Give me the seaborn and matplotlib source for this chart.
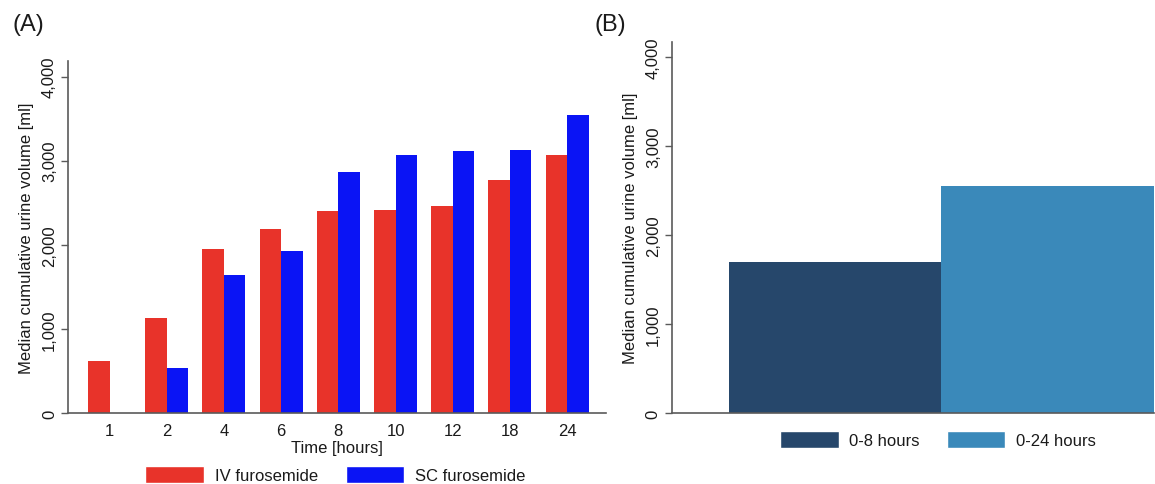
import numpy as np
import pandas as pd
import seaborn as sns
import matplotlib.pyplot as plt
from matplotlib.patches import Patch

# panel A: median cumulative urine volume per time point
hours = ["1", "2", "4", "6", "8", "10", "12", "18", "24"]
iv_volume = [615, 1135, 1945, 2190, 2405, 2415, 2460, 2770, 3065]
sc_volume = [np.nan, 535, 1640, 1930, 2865, 3070, 3115, 3130, 3540]
groups = ["IV furosemide", "SC furosemide"]

# panel B: SC furosemide intervals
periods = ["0-8 hours", "0-24 hours"]
period_volume = [1700, 2550]

yticks = [0, 1000, 2000, 3000, 4000]
ytick_labels = ["0", "1,000", "2,000", "3,000", "4,000"]

red, blue = "#E8332A", "#0A14F5"
navy, steel = "#26476B", "#3A89BA"
axis_grey = "#5a5a5a"
ink = "#1a1a1a"

sns.set_theme(style="white")
plt.rcParams["font.family"] = ["Liberation Sans", "DejaVu Sans"]
plt.rcParams["font.size"] = 12
for key in ("text.color", "axes.labelcolor", "xtick.color", "ytick.color"):
    plt.rcParams[key] = ink

df_a = pd.DataFrame({
    "hours": hours * 2,
    "volume": iv_volume + sc_volume,
    "group": [groups[0]] * len(hours) + [groups[1]] * len(hours),
})
df_b = pd.DataFrame({"period": periods, "volume": period_volume})

fig = plt.figure(figsize=(11.55, 4.85), dpi=100)
ax_a = fig.add_axes([0.0589, 0.1464, 0.4658, 0.7264])
ax_b = fig.add_axes([0.5818, 0.1458, 0.4172, 0.7662])

sns.barplot(data=df_a, x="hours", y="volume", hue="group", order=hours,
            hue_order=groups, palette=[red, blue], width=0.75,
            saturation=1, errorbar=None, ax=ax_a, legend=False)
ax_a.set_xlim(-0.725, 8.68)
ax_a.set_ylim(0, 4190)
ax_a.set_xlabel("Time [hours]", fontsize=12, labelpad=1)

sns.barplot(data=df_b, x="period", y="volume", hue="period", order=periods,
            hue_order=periods, palette=[navy, steel], width=1.0,
            saturation=1, errorbar=None, ax=ax_b, legend=False)
ax_b.set_xlim(-0.767, 1.5)
ax_b.set_ylim(0, 4175)
ax_b.set_xlabel("")
ax_b.set_xticks([])

for ax in (ax_a, ax_b):
    for p in ax.patches:
        p.set_linewidth(0)
    ax.set_yticks(yticks)
    ax.set_yticklabels(ytick_labels, rotation=90, va="center")
    ax.set_ylabel("Median cumulative urine volume [ml]", fontsize=12, labelpad=6)
    ax.tick_params(axis="y", which="both", left=True, length=5, width=1,
                   color=axis_grey, labelsize=12, pad=3)
    ax.tick_params(axis="x", bottom=False, labelsize=12, pad=1.5)
    for side in ("top", "right"):
        ax.spines[side].set_visible(False)
    for side in ("left", "bottom"):
        ax.spines[side].set_color(axis_grey)
        ax.spines[side].set_linewidth(1.2)

leg_a = [Patch(facecolor=red, label=groups[0]), Patch(facecolor=blue, label=groups[1])]
fig.legend(handles=leg_a, loc="center", bbox_to_anchor=(0.2905, 0.019), ncol=2,
           frameon=False, fontsize=12, handlelength=3.5, handleheight=1.2,
           handletextpad=0.65, columnspacing=1.7, borderpad=0.1)

leg_b = [Patch(facecolor=navy, label=periods[0]), Patch(facecolor=steel, label=periods[1])]
fig.legend(handles=leg_b, loc="center", bbox_to_anchor=(0.812, 0.0918), ncol=2,
           frameon=False, fontsize=12, handlelength=3.5, handleheight=1.25,
           handletextpad=0.65, columnspacing=1.6)

fig.text(0.0104, 0.972, "(A)", fontsize=17, va="top", ha="left")
fig.text(0.5150, 0.972, "(B)", fontsize=17, va="top", ha="left")

fig.savefig("out.png", dpi=100)
